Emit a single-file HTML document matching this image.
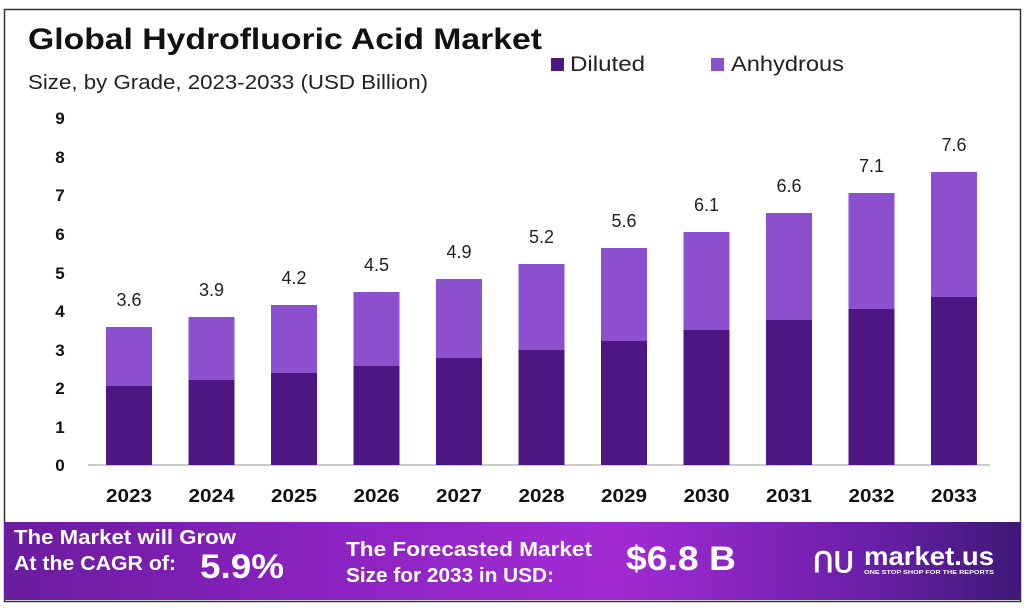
<!DOCTYPE html>
<html><head><meta charset="utf-8"><style>
html,body{margin:0;padding:0;background:#fff}
body{width:1024px;height:609px;overflow:hidden;position:relative;font-family:"Liberation Sans",sans-serif}
</style></head><body>
<svg width="1024" height="609" xmlns="http://www.w3.org/2000/svg" style="position:absolute;left:0;top:0">
<defs>
<linearGradient id="bg" x1="0" x2="1" y1="0" y2="0">
<stop offset="0" stop-color="#6a1c9e"/>
<stop offset="0.3" stop-color="#8a22c0"/>
<stop offset="0.6" stop-color="#a32bd4"/>
<stop offset="0.85" stop-color="#6a1fa8"/>
<stop offset="1" stop-color="#3f1878"/>
</linearGradient>
</defs>
<rect x="0" y="0" width="1024" height="609" fill="#fff"/>
<rect x="4.5" y="9.5" width="1016" height="592" fill="none" stroke="#333" stroke-width="1.5"/>
<rect x="4" y="522" width="1017" height="78" fill="url(#bg)"/>
<text x="28" y="49" font-size="30" font-weight="bold" fill="#111" textLength="514" lengthAdjust="spacingAndGlyphs">Global Hydrofluoric Acid Market</text>
<text x="28" y="89" font-size="20" fill="#222" textLength="400" lengthAdjust="spacingAndGlyphs">Size, by Grade, 2023-2033 (USD Billion)</text>
<rect x="551" y="58" width="13" height="13" fill="#4e1682"/>
<text x="570" y="71" font-size="21" fill="#222" textLength="75" lengthAdjust="spacingAndGlyphs">Diluted</text>
<rect x="711" y="58" width="13" height="13" fill="#8c50cf"/>
<text x="731" y="71" font-size="21" fill="#222" textLength="113" lengthAdjust="spacingAndGlyphs">Anhydrous</text>
<g font-size="17" font-weight="bold" fill="#111" text-anchor="middle">
<text x="60" y="124">9</text><text x="60" y="163">8</text><text x="60" y="201">7</text>
<text x="60" y="240">6</text><text x="60" y="279">5</text><text x="60" y="317">4</text>
<text x="60" y="356">3</text><text x="60" y="394">2</text><text x="60" y="433">1</text>
<text x="60" y="471">0</text>
</g>
<line x1="88" y1="465" x2="990" y2="465" stroke="#bbb" stroke-width="1.5"/>
<g id="bars"></g>
<g font-size="18" font-weight="bold" fill="#111" text-anchor="middle" id="xl"></g>
<g font-size="18" fill="#222" text-anchor="middle" id="vl"></g>
<text x="14" y="544" font-size="20" font-weight="bold" fill="#fff" textLength="222" lengthAdjust="spacingAndGlyphs">The Market will Grow</text>
<text x="14" y="570" font-size="20" font-weight="bold" fill="#fff" textLength="162" lengthAdjust="spacingAndGlyphs">At the CAGR of:</text>
<text x="200" y="578" font-size="34" font-weight="bold" fill="#fff" textLength="84" lengthAdjust="spacingAndGlyphs">5.9%</text>
<text x="346" y="556" font-size="20" font-weight="bold" fill="#fff" textLength="246" lengthAdjust="spacingAndGlyphs">The Forecasted Market</text>
<text x="346" y="582" font-size="20" font-weight="bold" fill="#fff" textLength="208" lengthAdjust="spacingAndGlyphs">Size for 2033 in USD:</text>
<text x="626" y="570" font-size="34" font-weight="bold" fill="#fff" textLength="110" lengthAdjust="spacingAndGlyphs">$6.8 B</text>
<text x="813" y="572" font-size="28" font-weight="bold" fill="#fff">ՈՍ</text>
<text x="864" y="565" font-size="26" font-weight="bold" fill="#fff" textLength="130" lengthAdjust="spacingAndGlyphs">market.us</text>
<text x="864" y="574" font-size="5" font-weight="bold" fill="#fff" textLength="130" lengthAdjust="spacingAndGlyphs">ONE STOP SHOP FOR THE REPORTS</text>
</svg>
<script>
var tops=[327,317,305,292,279,264,248,232,213,193,172];
var dil=[386,380,373,366,358,350,341,330,320,309,297];
var vals=["3.6","3.9","4.2","4.5","4.9","5.2","5.6","6.1","6.6","7.1","7.6"];
var ns="http://www.w3.org/2000/svg";
function el(p,t,a,tx){var e=document.createElementNS(ns,t);for(var k in a)e.setAttribute(k,a[k]);if(tx)e.textContent=tx;document.getElementById(p).appendChild(e);}
for(var i=0;i<11;i++){var cx=129+i*82.5;
el("bars","rect",{x:cx-23,y:tops[i],width:46,height:dil[i]-tops[i],fill:"#8c50cf"});
el("bars","rect",{x:cx-23,y:dil[i],width:46,height:465-dil[i],fill:"#4e1682"});
el("xl","text",{x:cx,y:502,textLength:46,lengthAdjust:"spacingAndGlyphs"},String(2023+i));
el("vl","text",{x:cx,y:tops[i]-21},vals[i]);}
</script>
</body></html>
